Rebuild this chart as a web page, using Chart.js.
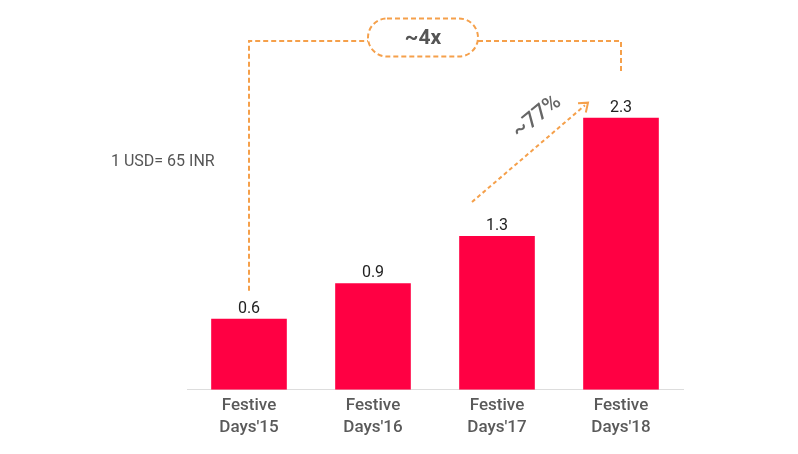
<!DOCTYPE html>
<html>
<head>
<meta charset="utf-8">
<script src="https://cdn.jsdelivr.net/npm/chart.js@4/dist/chart.umd.min.js"></script>
<style>
  html, body { margin: 0; padding: 0; background: #fff; }
  #wrap { width: 798px; height: 454px; position: relative; }
</style>
</head>
<body>
<div id="wrap"><canvas id="festiveChart" width="798" height="454"></canvas></div>
<script>
// chart data
const categories = [["Festive", "Days'15"], ["Festive", "Days'16"], ["Festive", "Days'17"], ["Festive", "Days'18"]];
const salesValues = [0.6, 0.9, 1.3, 2.3];
const growthText = '~4x';
const yoyText = '~77%';
const noteText = '1 USD= 65 INR';

const orange = '#f5a04b';

// draws value labels, the ~4x bracket and the ~77% arrow
const annotations = {
    id: 'annotations',
    afterDatasetsDraw(chart) {
        const ctx = chart.ctx;
        const bars = chart.getDatasetMeta(0).data;

        // value labels
        ctx.save();
        ctx.font = '16px Roboto';
        ctx.fillStyle = '#222';
        ctx.textAlign = 'center';
        ctx.textBaseline = 'middle';
        bars.forEach(function(bar, i) {
            ctx.fillText(salesValues[i].toFixed(1), bar.x, bar.y - 10);
        });
        ctx.restore();

        // bracket
        const first = bars[0];
        const last = bars[bars.length - 1];
        const topY = 41;
        const pillX = (first.x + last.x) / 2 - 12;
        const pillW = 110, pillH = 38, pillY = 37.5;
        ctx.save();
        ctx.strokeStyle = orange;
        ctx.lineWidth = 2;
        ctx.setLineDash([5, 3]);
        ctx.beginPath();
        ctx.moveTo(first.x, first.y - 28);
        ctx.lineTo(first.x, topY);
        ctx.lineTo(pillX - pillW / 2, topY);
        ctx.moveTo(pillX + pillW / 2, topY);
        ctx.lineTo(last.x, topY);
        ctx.lineTo(last.x, 71);
        ctx.stroke();
        ctx.beginPath();
        ctx.roundRect(pillX - pillW / 2, pillY - pillH / 2, pillW, pillH, pillH / 2);
        ctx.stroke();
        ctx.restore();

        ctx.save();
        ctx.font = 'bold 21px Roboto';
        ctx.fillStyle = '#555';
        ctx.textAlign = 'center';
        ctx.textBaseline = 'middle';
        ctx.fillText(growthText, pillX, pillY + 1);
        ctx.restore();

        // growth arrow between the last two bars
        const b3 = bars[2];
        const x1 = b3.x - 25, y1 = b3.y - 34;
        const x2 = last.x - 33, y2 = last.y - 15;
        const ang = Math.atan2(y2 - y1, x2 - x1);
        ctx.save();
        ctx.strokeStyle = orange;
        ctx.lineWidth = 2;
        ctx.setLineDash([4, 3]);
        ctx.beginPath();
        ctx.moveTo(x1, y1);
        ctx.lineTo(x2 - 4 * Math.cos(ang), y2 - 4 * Math.sin(ang));
        ctx.stroke();
        ctx.setLineDash([]);
        ctx.beginPath();
        ctx.moveTo(x2 + 10 * Math.cos(ang + 2.5), y2 + 10 * Math.sin(ang + 2.5));
        ctx.lineTo(x2, y2);
        ctx.lineTo(x2 + 10 * Math.cos(ang - 2.5), y2 + 10 * Math.sin(ang - 2.5));
        ctx.stroke();
        ctx.restore();

        ctx.save();
        ctx.translate(537, 117);
        ctx.rotate(-0.68);
        ctx.font = '500 22px Roboto';
        ctx.fillStyle = '#666';
        ctx.textAlign = 'center';
        ctx.textBaseline = 'middle';
        ctx.fillText(yoyText, 0, 0);
        ctx.restore();

        // currency note
        ctx.save();
        ctx.font = '16px Roboto';
        ctx.fillStyle = '#555';
        ctx.textBaseline = 'middle';
        ctx.fillText(noteText, 111, 162);
        ctx.restore();
    }
};

const ctxFestive = document.getElementById('festiveChart').getContext('2d');
const festiveChart = new Chart(ctxFestive, {
    type: 'bar',
    data: {
        labels: categories,
        datasets: [
            {
                label: 'Sales',
                data: salesValues,
                backgroundColor: '#ff0043',
                barPercentage: 0.61,
                categoryPercentage: 1.0,
            }
        ]
    },
    options: {
        responsive: false,
        animation: false,
        layout: {
            padding: { left: 187, right: 115, top: 94, bottom: 10 }
        },
        plugins: {
            legend: { display: false },
            tooltip: { enabled: false }
        },
        scales: {
            x: {
                grid: { display: false, drawTicks: false },
                border: { display: true, color: '#dddddd', width: 1 },
                ticks: {
                    padding: 5,
                    color: '#5a5a5a',
                    font: { family: 'Roboto', size: 17, weight: '500', lineHeight: 1.3 }
                }
            },
            y: {
                display: false,
                min: 0,
                max: 2.5
            }
        }
    },
    plugins: [annotations]
});
</script>
</body>
</html>
